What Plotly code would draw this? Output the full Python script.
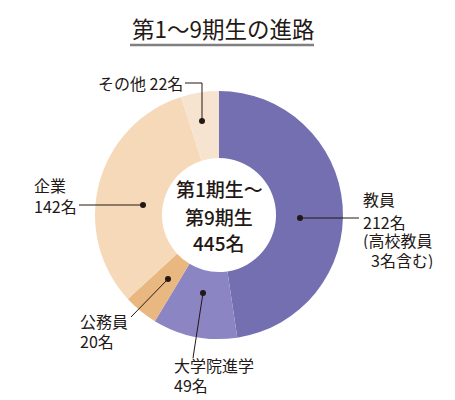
import plotly.graph_objects as go

# ---- data ----
categories = ["教員", "大学院進学", "公務員", "企業", "その他"]
counts = [212, 49, 20, 142, 22]
title_text = "第1～9期生の進路"
center_lines = ["第1期生～", "第9期生", "445名"]
label_lines = [
    ["教員", "212名", "(高校教員", "\u20023名含む)"],
    ["大学院進学", "49名"],
    ["公務員", "20名"],
    ["企業", "142名"],
    ["その他 22名"],
]

# ---- styling / layout ----
W, H = 455, 400
colors = ["#736fb0", "#8b86c3", "#e9b880", "#f5d9b9", "#f6e4d0"]
FONT = "Noto Sans CJK JP"
TXT = "#231815"
cx, cy, R = 219, 215, 124


def px(x):
    return x / W


def py(y):
    return 1 - y / H


fig = go.Figure(
    go.Pie(
        labels=categories,
        values=counts,
        sort=False,
        direction="clockwise",
        rotation=0,
        hole=0.46,
        marker=dict(colors=colors, line=dict(width=0)),
        textinfo="none",
        hoverinfo="skip",
        showlegend=False,
        domain=dict(x=[px(cx - R), px(cx + R)], y=[py(cy + R), py(cy - R)]),
    )
)

# label placements (pixel coords): left x and y of each line
label_x = [362, 173, 79, 33, 97]
label_ys = [[199, 222, 240.5, 259.5], [365, 385], [321, 341], [185, 206], [83]]
dots = [(300, 218), (203, 293), (168, 279), (143, 205), (202, 121)]
leaders = [
    [(300, 218), (359, 218)],
    [(203, 293), (193, 358)],
    [(168, 279), (131, 317)],
    [(143, 205), (79, 205)],
    [(202, 121), (202, 83), (185, 83)],
]

shapes = []
for pts in leaders:
    path = "M " + " L ".join(f"{px(x)},{py(y)}" for x, y in pts)
    shapes.append(dict(type="path", xref="paper", yref="paper", path=path,
                       line=dict(color=TXT, width=1)))
for x, y in dots:
    r = 3
    shapes.append(dict(type="circle", xref="paper", yref="paper",
                       x0=px(x - r), x1=px(x + r), y0=py(y + r), y1=py(y - r),
                       fillcolor=TXT, line=dict(width=0)))
# title underline
shapes.append(dict(type="line", xref="paper", yref="paper",
                   x0=px(130), x1=px(314), y0=py(45), y1=py(45),
                   line=dict(color="#808080", width=2.5)))

annotations = []
for lines, x, ys in zip(label_lines, label_x, label_ys):
    for t, y in zip(lines, ys):
        annotations.append(dict(text=t, x=px(x), y=py(y), xref="paper", yref="paper",
                                xanchor="left", yanchor="middle", align="left",
                                height=18, borderpad=0, showarrow=False,
                                font=dict(family=FONT, size=16, color=TXT)))
annotations.append(dict(text=title_text, x=px(222.5), y=py(28), xref="paper", yref="paper",
                        xanchor="center", yanchor="middle", showarrow=False,
                        font=dict(family=FONT, size=22.5, color=TXT)))
for t, y in zip(center_lines, [189, 216, 242]):
    annotations.append(dict(text=t, x=px(cx), y=py(y), xref="paper", yref="paper",
                            xanchor="center", yanchor="middle", showarrow=False,
                            font=dict(family=FONT, size=19, color=TXT, weight=500)))

fig.update_layout(
    width=W, height=H,
    margin=dict(l=0, r=0, t=0, b=0),
    paper_bgcolor="white", plot_bgcolor="white",
    shapes=shapes, annotations=annotations,
)

fig.write_html("out.html", config={"displayModeBar": False},
               post_script="document.body.style.margin='0';document.body.style.padding='0';")
